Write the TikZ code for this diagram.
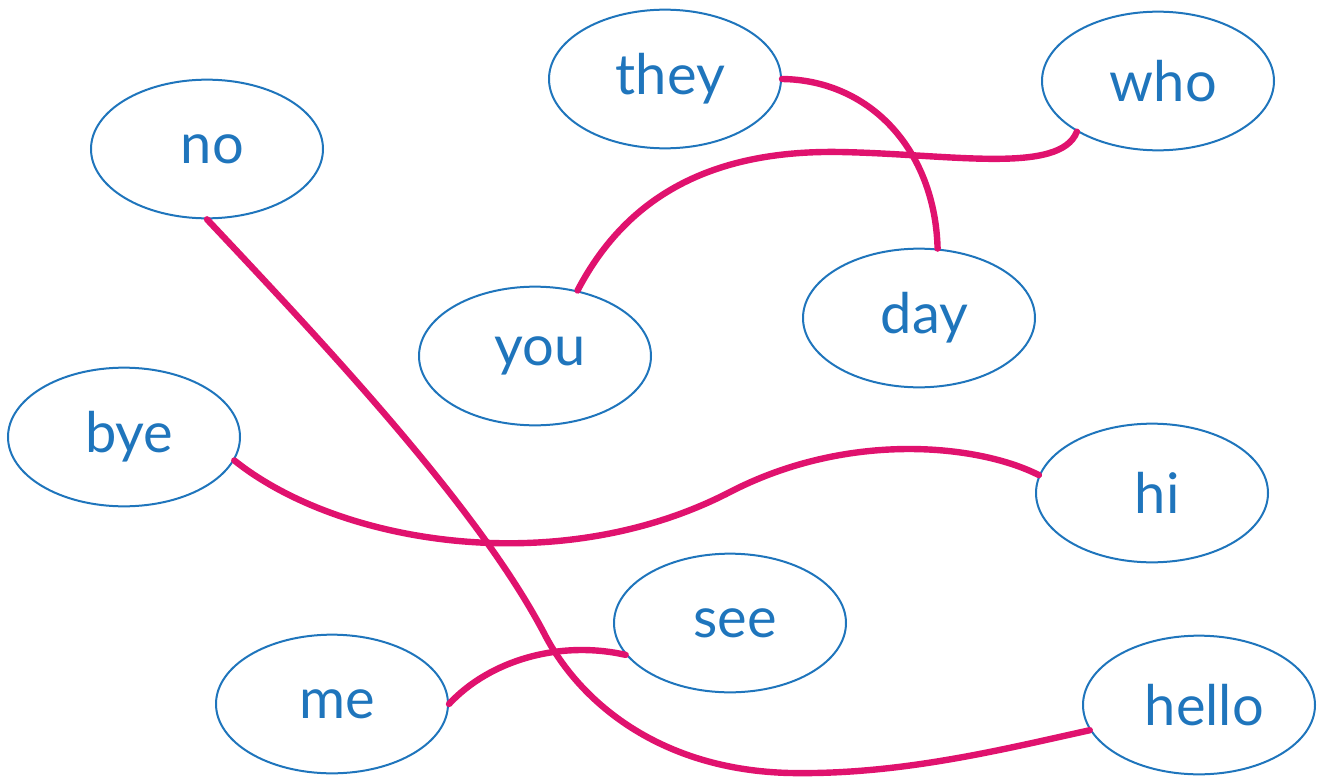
\documentclass[tikz,border=0pt]{standalone}
\usepackage{fontspec}
\setmainfont{Lato}
\usetikzlibrary{shapes.geometric}
\definecolor{nodeblue}{RGB}{31,117,188}
\definecolor{edgepink}{RGB}{224,18,110}
\newcommand{\wordtext}[1]{\hspace*{8pt}#1}
\begin{document}
\begin{tikzpicture}[x=0.75pt,y=-0.75pt,
  word/.style={ellipse,draw=nodeblue,line width=1.5pt,text=nodeblue,
    minimum width=174pt,minimum height=104pt,inner sep=0pt,
    font=\fontsize{42}{50}\selectfont},
  link/.style={draw=edgepink,line width=4.8pt,line cap=round}]
\useasboundingbox (0,0) rectangle (1322,778);
\node[word] (they)  at (665,79)  {\wordtext{they}};
\node[word] (who)   at (1158,81) {\wordtext{who}};
\node[word] (no)    at (207,149) {\wordtext{no}};
\node[word] (day)   at (919,318) {\wordtext{day}};
\node[word] (you)   at (535,356) {\wordtext{you}};
\node[word] (bye)   at (124,437) {\wordtext{bye}};
\node[word] (hi)    at (1152,493) {\wordtext{hi}};
\node[word] (see)   at (730,623) {\wordtext{see}};
\node[word] (me)    at (332,704) {\wordtext{me}};
\node[word] (hello) at (1199,705) {\wordtext{hello}};
\coordinate (c1) at (840,152);
\coordinate (c2) at (545,635);
\coordinate (c3) at (790,773);
\coordinate (c4) at (730,492);
\draw[link] (they.east) .. controls (870,80) and (935,150) .. (day.75);
\draw[link] (you.57) .. controls (630,190) and (720,150) .. (c1)
  .. controls (950,154) and (1060,175) .. (who.212);
\draw[link] (no.south) .. controls (330,350) and (480,510) .. (c2)
  .. controls (580,702) and (660,770) .. (c3)
  .. controls (900,775) and (1000,750) .. (hello.193);
\draw[link] (bye.-12) .. controls (340,545) and (560,580) .. (c4)
  .. controls (850,430) and (980,445) .. (hi.171);
\draw[link] (me.east) .. controls (490,660) and (560,640) .. (see.197);
\end{tikzpicture}
\end{document}
